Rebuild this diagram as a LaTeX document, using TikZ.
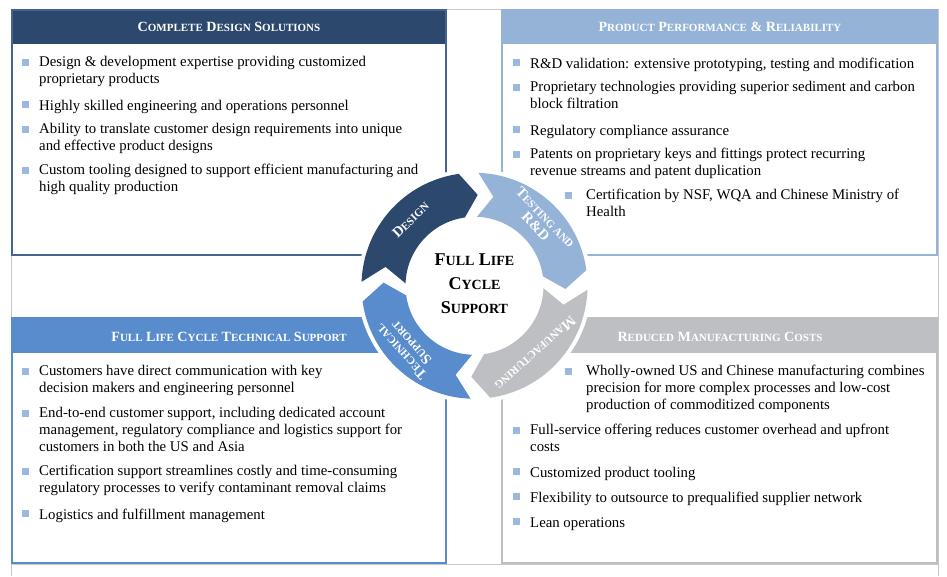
\documentclass[tikz,border=0pt]{standalone}
\usepackage{fontspec}
\setmainfont{Liberation Serif}
\usepackage{xcolor}
\usepackage{tikz}

\definecolor{navy}{RGB}{44,72,108}
\definecolor{navyline}{RGB}{70,100,145}
\definecolor{paleblue}{RGB}{149,179,215}
\definecolor{midblue}{RGB}{88,140,204}
\definecolor{silver}{RGB}{190,191,195}
\definecolor{gridgray}{RGB}{200,200,200}
\definecolor{bulletblue}{RGB}{155,185,222}

\newcommand{\capsword}[2]{#1{\capsize #2}}
\newcommand{\capsize}{\small}

\begin{document}
\begin{tikzpicture}[x=1pt, y=1pt]
\tikzset{
  gridline/.style={draw=gridgray, line width=0.8pt},
  paneltitle/.style={text=white, inner sep=0pt,
    font=\bfseries\fontsize{14.1}{17}\selectfont\renewcommand\capsize{\fontsize{11}{13}\selectfont}},
  itemtext/.style={anchor=north west, inner sep=0pt, align=left,
    font=\fontsize{14.8}{17}\selectfont, execute at begin node=\strut},
  bulletsq/.style={fill=bulletblue, minimum size=7pt, inner sep=0pt, anchor=south east},
  hubtext/.style={align=center, inner sep=0pt,
    font=\bfseries\fontsize{18}{24}\selectfont\renewcommand\capsize{\fontsize{14}{24}\selectfont}},
  ringtext/.style={text=white, align=center, inner sep=0pt,
    font=\bfseries\fontsize{14.5}{13.5}\selectfont\renewcommand\capsize{\fontsize{11}{13.5}\selectfont}}
}
\useasboundingbox (0,0) rectangle (947,576);

% table grid
\draw[gridline] (11,567) -- (938,567);
\draw[gridline] (11,12) -- (938,12);
\draw[gridline] (11,0) -- (11,567);
\draw[gridline] (938,0) -- (938,567);

% panels
\fill[white] (12,321) rectangle (446,566);
\fill[navy] (12,532) rectangle (446,566);
\draw[navyline, line width=1.2pt] (12,321) rectangle (446,566);
\fill[paleblue] (502,532) rectangle (937,566);
\draw[paleblue, line width=1.2pt] (502,321) rectangle (937,566);
\fill[midblue] (12,223) rectangle (446,258);
\draw[midblue, line width=1.2pt] (12,13) rectangle (446,258);
\fill[silver] (502,223) rectangle (937,258);
\draw[silver, line width=1.2pt] (502,13) rectangle (937,258);

\node[paneltitle] (tDesign) at (229,549) {\capsword{C}{OMPLETE} \capsword{D}{ESIGN} \capsword{S}{OLUTIONS}};
\node[paneltitle] (tPerf) at (720,549) {\capsword{P}{RODUCT} \capsword{P}{ERFORMANCE} \& \capsword{R}{ELIABILITY}};
\node[paneltitle] (tSupport) at (229,239) {\capsword{F}{ULL} \capsword{L}{IFE} \capsword{C}{YCLE} \capsword{T}{ECHNICAL} \capsword{S}{UPPORT}};
\node[paneltitle] (tCost) at (720,239) {\capsword{R}{EDUCED} \capsword{M}{ANUFACTURING} \capsword{C}{OSTS}};

% top left
\node[itemtext] (d1) at (39,519.9) {Design \& development expertise providing customized\\proprietary products};
\node[itemtext] (d2) at (39,477.9) {Highly skilled engineering and operations personnel};
\node[itemtext] (d3) at (39,452.9) {Ability to translate customer design requirements into unique\\and effective product designs};
\node[itemtext] (d4) at (39,411.9) {Custom tooling designed to support efficient manufacturing and\\high quality production};

% top right
\node[itemtext] (p1) at (530,519.9) {R\&D validation: extensive prototyping, testing and modification};
\node[itemtext] (p2) at (530,494.9) {Proprietary technologies providing superior sediment and carbon\\block filtration};
\node[itemtext] (p3) at (530,452.9) {Regulatory compliance assurance};
\node[itemtext] (p4) at (530,427.9) {Patents on proprietary keys and fittings protect recurring\\revenue streams and patent duplication};
\node[itemtext] (p5) at (586,386.9) {Certification by NSF, WQA and Chinese Ministry of\\Health};

% bottom left
\node[itemtext] (s1) at (39,210.9) {Customers have direct communication with key\\decision makers and engineering personnel};
\node[itemtext] (s2) at (39,168.9) {End-to-end customer support, including dedicated account\\management, regulatory compliance and logistics support for\\customers in both the US and Asia};
\node[itemtext] (s3) at (39,110.9) {Certification support streamlines costly and time-consuming\\regulatory processes to verify contaminant removal claims};
\node[itemtext] (s4) at (39,68.9) {Logistics and fulfillment management};

% bottom right
\node[itemtext] (m1) at (586,210.9) {Wholly-owned US and Chinese manufacturing combines\\precision for more complex processes and low-cost\\production of commoditized components};
\node[itemtext] (m2) at (530,151.9) {Full-service offering reduces customer overhead and upfront\\costs};
\node[itemtext] (m3) at (530,110.9) {Customized product tooling};
\node[itemtext] (m4) at (530,85.9) {Flexibility to outsource to prequalified supplier network};
\node[itemtext] (m5) at (530,60.9) {Lean operations};

\foreach \n in {d1,d2,d3,d4,p1,p2,p3,p4,s1,s2,s3,s4,m2,m3,m4,m5}
  \node[bulletsq] (b\n) at ([xshift=-9.5pt, yshift=-10pt]\n.north west) {};
\foreach \n in {p5,m1}
  \node[bulletsq] (b\n) at ([xshift=-13.5pt, yshift=-10pt]\n.north west) {};

% life cycle ring
\begin{scope}[shift={(474.5,290.2)}]
\fill[white] (0,0) circle[radius=117];
\foreach \t/\col in {178/navy, 88/paleblue, -2/silver, -92/midblue}
  \fill[\col] (\t:113) arc[start angle=\t, end angle=\t-80, radius=113]
    -- ({\t-90}:91) -- ({\t-80}:69) arc[start angle=\t-80, end angle=\t, radius=69]
    -- ({\t-10}:91) -- cycle;
\node[hubtext] (hub) at (0,2.3) {\capsword{F}{ULL} \capsword{L}{IFE}\\\capsword{C}{YCLE}\\\capsword{S}{UPPORT}};
\node[ringtext, rotate=44] (lDesign) at (134:92) {\capsword{D}{ESIGN}};
\node[ringtext, rotate=-46] (lTest) at (44:92) {\capsword{T}{ESTING AND}\\R\&D};
\node[ringtext, rotate=-138] (lMake) at (-48:91) {\capsword{M}{ANUFACTURING}};
\node[ringtext, rotate=132] (lTech) at (-138:92) {\capsword{T}{ECHNICAL}\\\capsword{S}{UPPORT}};
\end{scope}
\end{tikzpicture}
\end{document}
